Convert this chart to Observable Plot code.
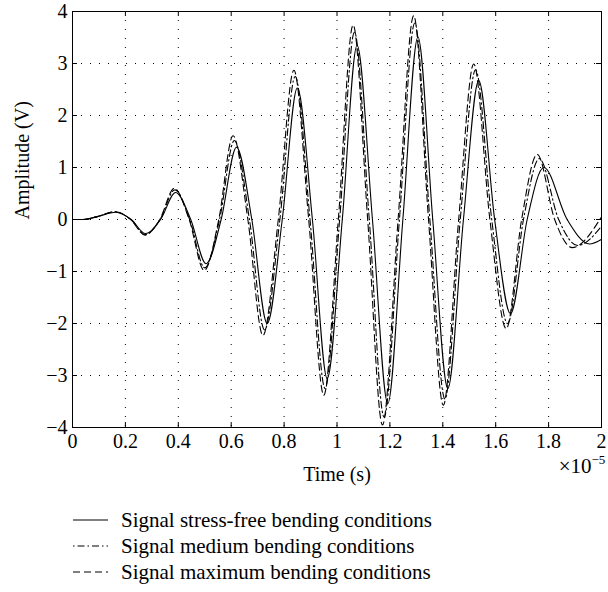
<!DOCTYPE html>
<html>
<head>
<meta charset="utf-8">
<script src="https://cdn.jsdelivr.net/npm/d3@7"></script>
<script src="https://cdn.jsdelivr.net/npm/@observablehq/plot@0.6"></script>
<style>
  html, body { margin: 0; padding: 0; background: #fff; }
  body { width: 608px; font-family: "Liberation Serif", "DejaVu Serif", serif; }
  .legend { padding-top: 17px; padding-left: 73px; }
  .legend .row { display: flex; align-items: center; height: 26px; font-size: 21px; color: #000; }
  .legend svg { margin-right: 13px; }
</style>
</head>
<body>
<div id="chart"></div>
<div class="legend" id="legend"></div>
<script>
// Tick values
const xTicks = [0, 0.2, 0.4, 0.6, 0.8, 1, 1.2, 1.4, 1.6, 1.8, 2];
const yTicks = [-4, -3, -2, -1, 0, 1, 2, 3, 4];

// Series names
const seriesNames = [
  "Signal stress-free bending conditions",
  "Signal medium bending conditions",
  "Signal maximum bending conditions"
];

// Stress-free (solid) — time (×1e-5 s) and amplitude (V)
const tFree = [0, 0.04, 0.09, 0.163, 0.222, 0.276, 0.333, 0.39, 0.447, 0.505, 0.562, 0.62, 0.678, 0.736, 0.793, 0.85, 0.907, 0.963, 1.02, 1.076, 1.134, 1.192, 1.249, 1.306, 1.362, 1.419, 1.478, 1.536, 1.596, 1.656, 1.719, 1.782, 1.87, 1.955, 2.0];
const vFree = [0, 0.0, 0.05, 0.14, 0, -0.27, 0, 0.52, 0, -0.85, 0, 1.39, 0, -2.0, 0, 2.53, 0, -3.06, 0, 3.35, 0, -3.54, 0, 3.51, 0, -3.25, 0, 2.67, 0, -1.81, 0, 1.0, 0, -0.47, -0.38];

// Medium bending (dash-dot)
const tMed = [0, 0.04, 0.09, 0.162, 0.22, 0.275, 0.331, 0.387, 0.443, 0.5, 0.556, 0.612, 0.669, 0.726, 0.784, 0.842, 0.898, 0.955, 1.01, 1.066, 1.122, 1.178, 1.236, 1.294, 1.351, 1.408, 1.466, 1.524, 1.585, 1.645, 1.705, 1.765, 1.838, 1.91, 2.0];
const vMed = [0, 0, 0.05, 0.15, 0, -0.29, 0, 0.57, 0, -0.93, 0, 1.52, 0, -2.12, 0, 2.75, 0, -3.25, 0, 3.6, 0, -3.8, 0, 3.78, 0, -3.45, 0, 2.88, 0, -2.0, 0, 1.17, 0, -0.5, -0.13];

// Maximum bending (dashed)
const tMax = [0, 0.04, 0.09, 0.16, 0.22, 0.274, 0.33, 0.385, 0.441, 0.498, 0.553, 0.607, 0.663, 0.72, 0.778, 0.837, 0.893, 0.95, 1.005, 1.061, 1.116, 1.172, 1.231, 1.29, 1.346, 1.402, 1.46, 1.517, 1.578, 1.64, 1.698, 1.757, 1.823, 1.889, 2.0];
const vMax = [0, 0, 0.05, 0.15, 0, -0.3, 0, 0.6, 0, -0.98, 0, 1.61, 0, -2.23, 0, 2.87, 0, -3.38, 0, 3.74, 0, -3.95, 0, 3.92, 0, -3.57, 0, 2.99, 0, -2.1, 0, 1.25, 0, -0.54, 0.05];

const toRows = (ts, vs) => ts.map((t, i) => ({t, v: vs[i]}));
const rowsFree = toRows(tFree, vFree);
const rowsMed = toRows(tMed, vMed);
const rowsMax = toRows(tMax, vMax);

const styles = [
  {dash: null},
  {dash: "1.5,3,7,3"},
  {dash: "7,4"}
];

const W = 608, H = 490;
const mL = 72, mR = 7, mT = 11, mB = 63;
const innerW = W - mL - mR, innerH = H - mT - mB;
const FONT = "Liberation Serif, DejaVu Serif, serif";
const FS = 20;

const fmtX = d => String(+d.toFixed(1));
const fmtY = d => d < 0 ? "\u2212" + (-d) : String(d);
const innerX = xTicks.slice(1, -1);
const innerY = yTicks.slice(1, -1);

const chart = Plot.plot({
  width: W, height: H,
  marginLeft: mL, marginRight: mR, marginTop: mT, marginBottom: mB,
  style: {fontFamily: FONT, fontSize: FS + "px", color: "#000", background: "#fff", overflow: "visible"},
  x: {domain: [0, 2], ticks: xTicks, tickFormat: fmtX},
  y: {domain: [-4, 4], ticks: yTicks, tickFormat: fmtY},
  marks: [
    Plot.gridX(innerX, {stroke: "#000", strokeOpacity: 1, strokeWidth: 1, strokeDasharray: "1,8"}),
    Plot.gridY(innerY, {stroke: "#000", strokeOpacity: 1, strokeWidth: 1, strokeDasharray: "1,8"}),
    Plot.line(rowsFree, {x: "t", y: "v", curve: "monotone-x", stroke: "#000", strokeWidth: 1.1, clip: true}),
    Plot.line(rowsMed, {x: "t", y: "v", curve: "monotone-x", stroke: "#000", strokeWidth: 1.1, strokeDasharray: styles[1].dash, clip: true}),
    Plot.line(rowsMax, {x: "t", y: "v", curve: "monotone-x", stroke: "#000", strokeWidth: 1.1, strokeDasharray: styles[2].dash, clip: true}),
    // inward ticks on all four sides
    Plot.tickX(innerX, {x: d => d, stroke: "#000", insetTop: innerH - 5}),
    Plot.tickX(innerX, {x: d => d, stroke: "#000", insetBottom: innerH - 5}),
    Plot.tickY(innerY, {y: d => d, stroke: "#000", insetRight: innerW - 5}),
    Plot.tickY(innerY, {y: d => d, stroke: "#000", insetLeft: innerW - 5}),
    Plot.frame({stroke: "#000", strokeWidth: 1}),
    Plot.axisX(xTicks, {tickSize: 0, tickPadding: 6, tickFormat: fmtX, fontSize: FS, label: null}),
    Plot.axisY(yTicks, {tickSize: 0, tickPadding: 5, tickFormat: fmtY, fontSize: FS, label: null}),
    Plot.text(["Time (s)"], {frameAnchor: "bottom", dy: 53, fontSize: FS, fill: "#000"}),
    Plot.text(["Amplitude (V)"], {frameAnchor: "left", dx: -50, rotate: -90, fontSize: FS, fill: "#000"}),
    Plot.text(["\u00d710"], {frameAnchor: "bottom-right", textAnchor: "end", dx: -10, dy: 45, fontSize: 21, fill: "#000"}),
    Plot.text(["\u22125"], {frameAnchor: "bottom-right", textAnchor: "start", dx: -10, dy: 36, fontSize: 13, fill: "#000"})
  ]
});
document.getElementById("chart").appendChild(chart);

// Legend below the chart
const legend = d3.select("#legend");
seriesNames.forEach((name, i) => {
  const row = legend.append("div").attr("class", "row");
  const s = row.append("svg").attr("width", 35).attr("height", 10);
  s.append("line").attr("x1", 0).attr("x2", 35).attr("y1", 5).attr("y2", 5)
    .attr("stroke", "#000").attr("stroke-width", 1.1)
    .attr("stroke-dasharray", styles[i].dash);
  row.append("span").text(name);
});
</script>
</body>
</html>
